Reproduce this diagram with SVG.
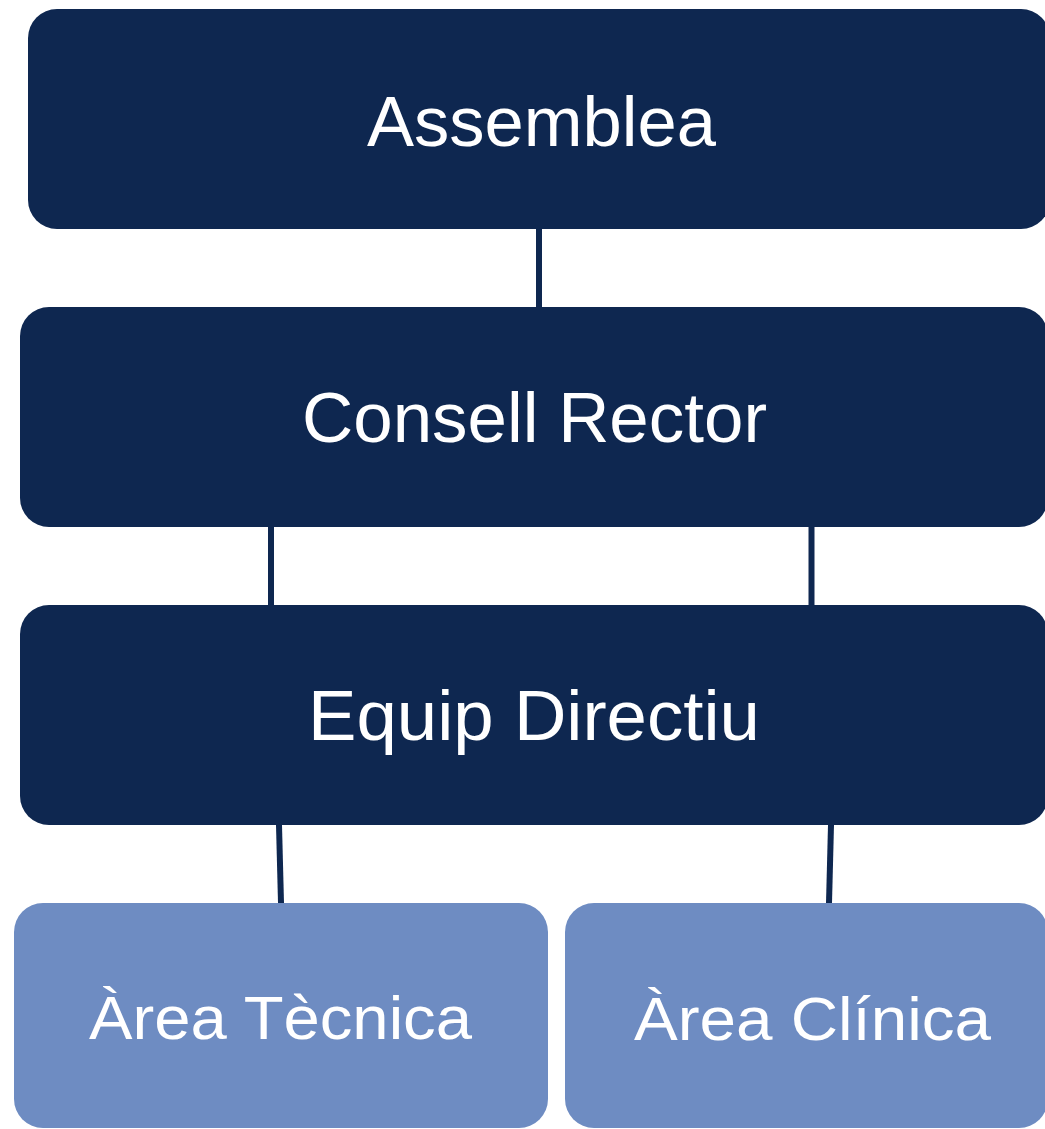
<svg xmlns="http://www.w3.org/2000/svg" width="1045" height="1129" viewBox="0 0 1045 1129">
<style>
.dark{fill:#0e2750}
.light{fill:#6e8cc2}
.lbl{font-family:"Liberation Sans",Arial,sans-serif;font-size:70px;fill:#ffffff;text-anchor:middle}
.sm{font-size:62px}
.conn{stroke:#0e2750;stroke-width:6;fill:none}
</style>
<rect width="1045" height="1129" fill="#ffffff"/>
<g id="connectors">
<line class="conn" x1="539" y1="229" x2="539" y2="307"/>
<line class="conn" x1="271" y1="527" x2="271" y2="605"/>
<line class="conn" x1="811.5" y1="527" x2="811.5" y2="605"/>
<line class="conn" x1="279" y1="825" x2="281" y2="903"/>
<line class="conn" x1="831" y1="825" x2="829" y2="903"/>
</g>
<g id="assemblea">
<rect class="dark" x="28" y="9" width="1022" height="220" rx="29"/>
<text class="lbl" x="541.5" y="146" textLength="349" lengthAdjust="spacingAndGlyphs">Assemblea</text>
</g>
<g id="consell-rector">
<rect class="dark" x="20" y="307" width="1028" height="220" rx="29"/>
<text class="lbl" x="534.5" y="442" textLength="465" lengthAdjust="spacingAndGlyphs">Consell Rector</text>
</g>
<g id="equip-directiu">
<rect class="dark" x="20" y="605" width="1028" height="220" rx="29"/>
<text class="lbl" x="534" y="740" textLength="452" lengthAdjust="spacingAndGlyphs">Equip Directiu</text>
</g>
<g id="area-tecnica">
<rect class="light" x="14" y="903" width="534" height="225" rx="29"/>
<text class="lbl sm" x="280.5" y="1039" textLength="383" lengthAdjust="spacingAndGlyphs">Àrea Tècnica</text>
</g>
<g id="area-clinica">
<rect class="light" x="565" y="903" width="483" height="225" rx="29"/>
<text class="lbl sm" x="812.5" y="1040" textLength="357" lengthAdjust="spacingAndGlyphs">Àrea Clínica</text>
</g>
</svg>
